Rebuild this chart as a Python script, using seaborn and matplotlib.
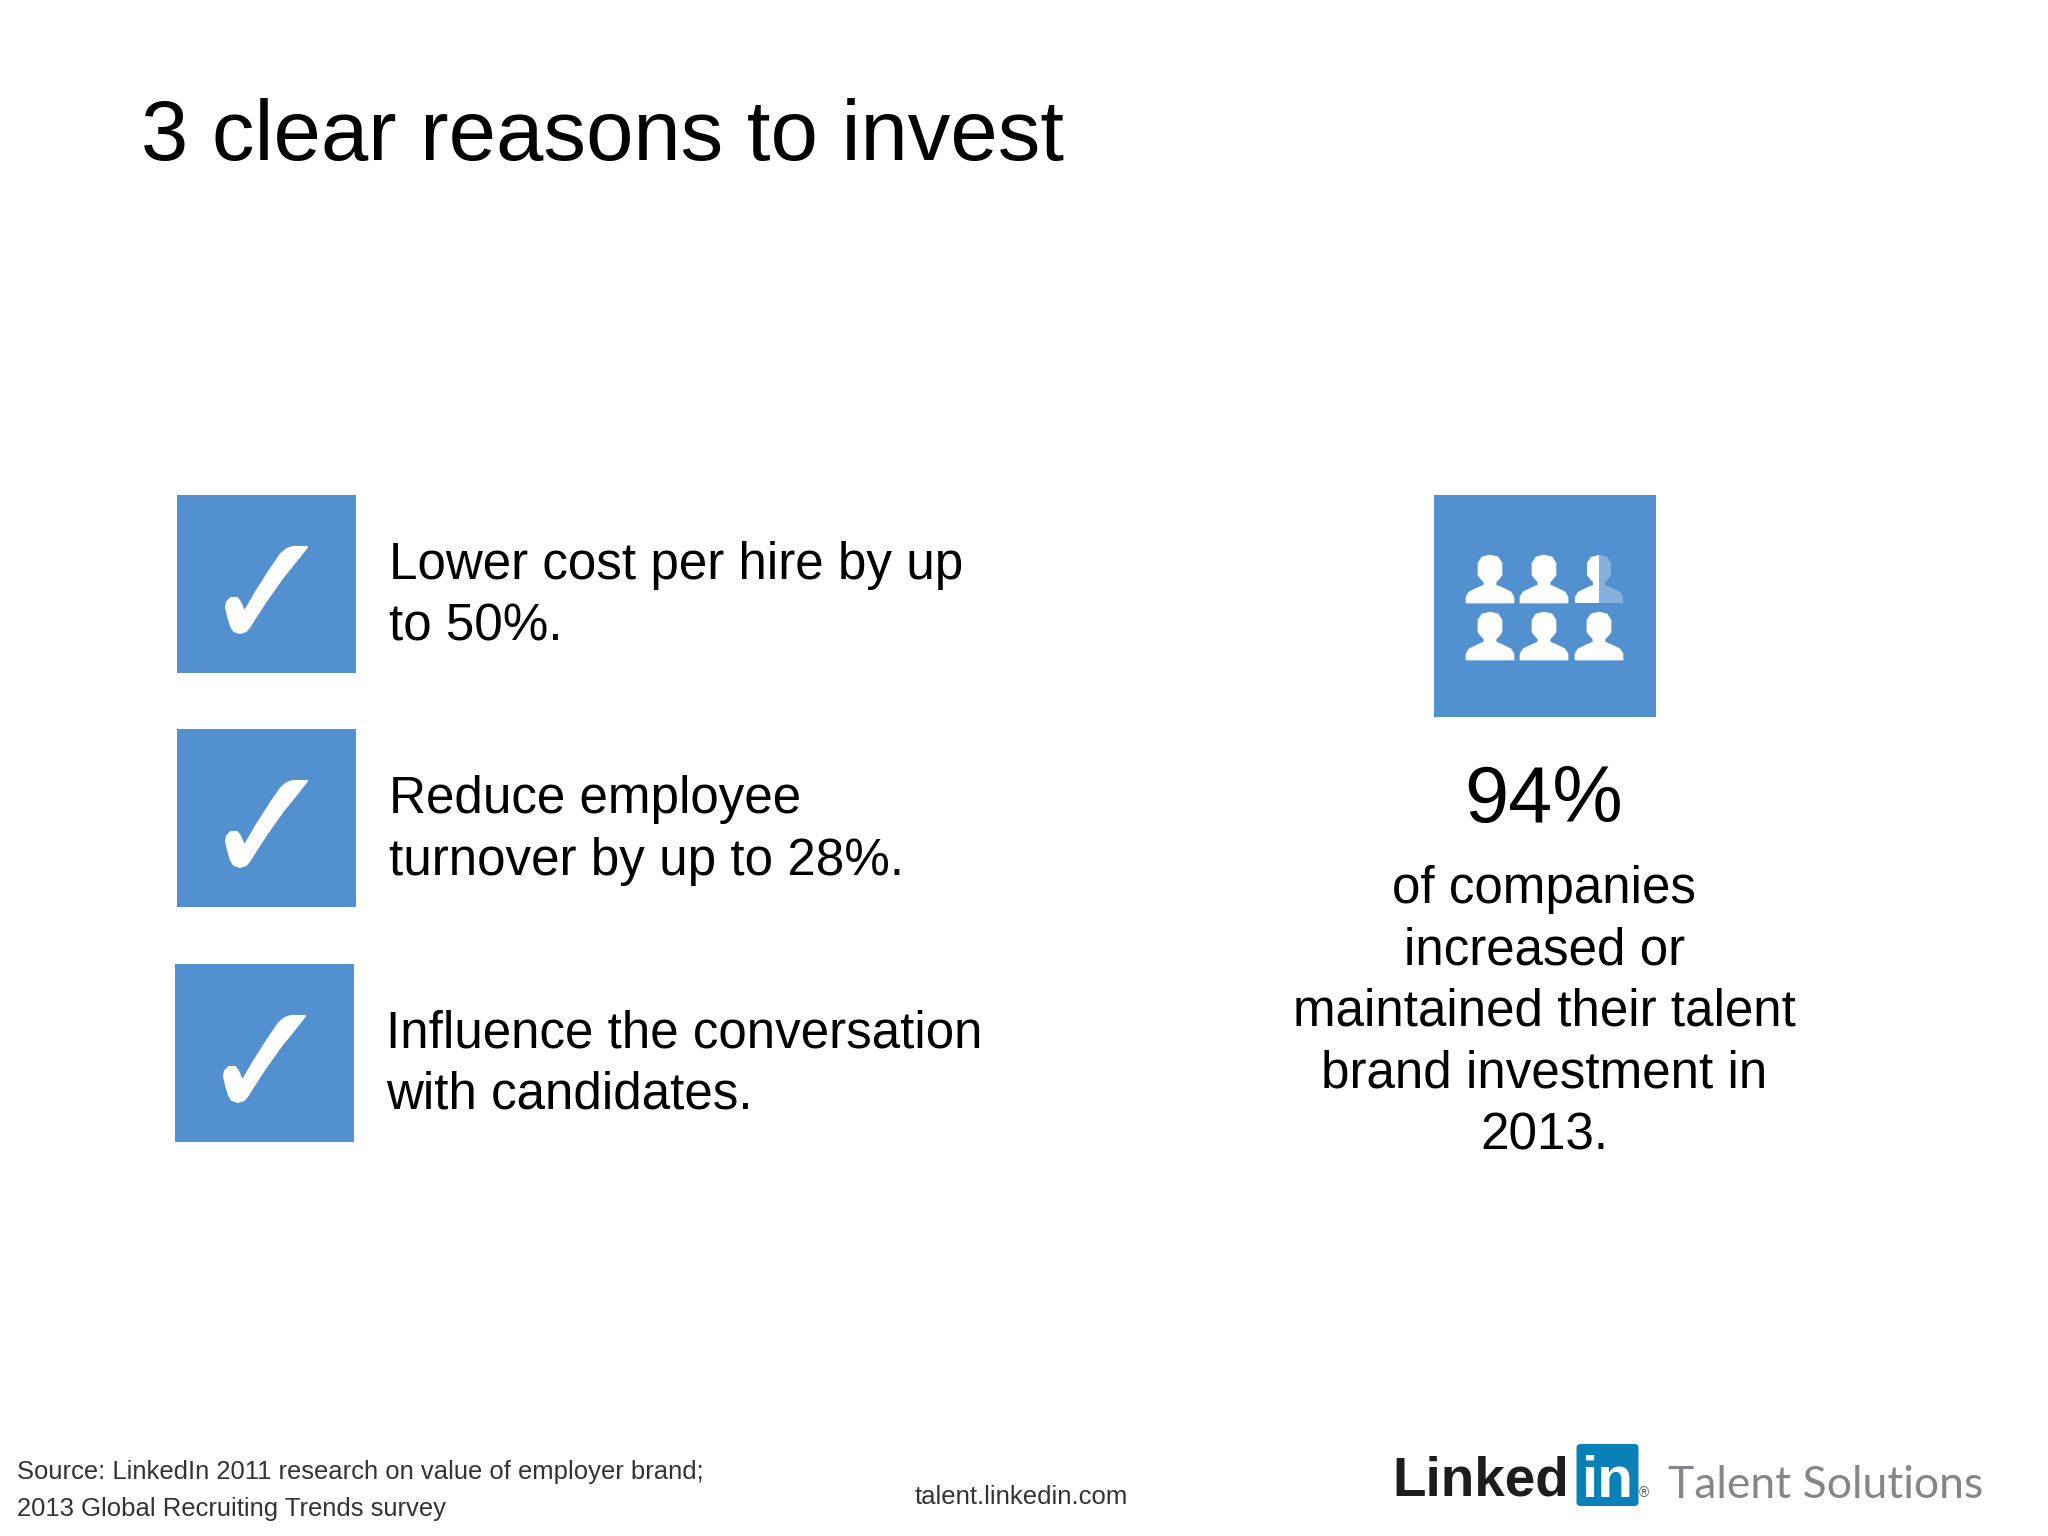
import matplotlib
matplotlib.use("Agg")
import matplotlib.pyplot as plt
from matplotlib.patches import Rectangle, Polygon, FancyBboxPatch
import seaborn as sns

# slide text
title = "3 clear reasons to invest"
reasons = [
    ["Lower cost per hire by up", "to 50%."],
    ["Reduce employee", "turnover by up to 28%."],
    ["Influence the conversation", "with candidates."],
]
stat_value = "94%"
stat_lines = ["of companies", "increased or", "maintained their talent", "brand investment in", "2013."]
source_lines = ["Source: LinkedIn 2011 research on value of employer brand;",
                "2013 Global Recruiting Trends survey"]
site = "talent.linkedin.com"

BLUE = "#5290d0"

sns.set_theme(style="white")
plt.rcParams["font.family"] = ["Liberation Sans", "DejaVu Sans"]

fig, ax = plt.subplots(figsize=(20.48, 15.36), dpi=100)
fig.subplots_adjust(0, 0, 1, 1)
ax.set_xlim(0, 2048)
ax.set_ylim(1536, 0)
ax.set_xticks([])
ax.set_yticks([])
sns.despine(ax=ax, left=True, bottom=True)


def draw_check(x, y):
    # outline traced off the tile, relative to its top left corner
    check = [(130, 52), (119, 66), (106, 82), (89, 106), (78, 123), (73, 131), (69, 136), (63, 138),
             (57, 136), (54, 131), (51, 121), (49, 112), (50, 107), (54, 103), (60, 103), (63, 107),
             (66, 114), (68, 116), (79, 97), (93, 75), (104, 59), (110, 54), (116, 52), (123, 52)]
    ax.add_patch(Polygon([(x + a, y + b) for a, b in check], closed=True, fc="white", ec="white",
                         lw=1.5, joinstyle="round"))


def draw_person(cx, base, half=False):
    outline = [(-24, 0), (-24, -6), (-21, -11), (-13, -15), (-6, -18), (-6, -21), (-9, -24), (-12, -28),
               (-12, -40), (-8, -46), (0, -48), (8, -46), (12, -40), (12, -28), (9, -24), (6, -21),
               (6, -18), (13, -15), (21, -11), (24, -6), (24, 0)]
    pts = [(cx + a, base + b) for a, b in outline]
    if not half:
        ax.add_patch(Polygon(pts, closed=True, fc="white", ec="white", lw=0.5))
        return
    # last person of the 94% icon is only part filled
    faded = Polygon(pts, closed=True, fc="white", ec="none", alpha=0.3)
    ax.add_patch(faded)
    solid = Polygon(pts, closed=True, fc="white", ec="none")
    ax.add_patch(solid)
    solid.set_clip_path(Rectangle((cx - 30, base - 60), 30, 70, transform=ax.transData))


# title
ax.text(141, 160, title, fontsize=61.3, color="black", va="baseline")

# check tiles and reasons
tile_x = [177, 177, 175]
tile_y = [495, 729, 964]
text_x = [389, 389, 386]
text_y = [579, 813, 1047]
for i, lines in enumerate(reasons):
    ax.add_patch(Rectangle((tile_x[i], tile_y[i]), 179, 178, fc=BLUE, ec="none"))
    draw_check(tile_x[i], tile_y[i])
    for k, line in enumerate(lines):
        ax.text(text_x[i], text_y[i] + k * 61.5, line, fontsize=36.8, color="black", va="baseline")

# right hand stat
ax.add_patch(Rectangle((1434, 495), 222, 222, fc=BLUE, ec="none"))
for row, base in enumerate([603, 660]):
    for col, cx in enumerate([1490, 1544, 1599]):
        draw_person(cx, base, half=(row == 0 and col == 2))
ax.text(1544, 822, stat_value, fontsize=57, color="black", ha="center", va="baseline")
for k, line in enumerate(stat_lines):
    ax.text(1544.5, 903 + k * 61.5, line, fontsize=36.8, color="black", ha="center", va="baseline")

# footer
for k, line in enumerate(source_lines):
    ax.text(17, 1479 + k * 37, line, fontsize=18.45, color="#333333", va="baseline")
ax.text(915, 1504, site, fontsize=18.5, color="#333333", va="baseline")

# logo
ax.text(1392, 1495, "Linked", fontsize=39.5, fontweight="bold", color="#1d1d1b", va="baseline")
ax.add_patch(FancyBboxPatch((1582 - 2.5, 1447), 56, 56, boxstyle="round,pad=3,rounding_size=4",
                            fc="#0a80b8", ec="none"))
ax.text(1607.5, 1497, "in", fontsize=42, fontweight="bold", color="white", ha="center", va="baseline")
ax.text(1644, 1497, "\u00ae", fontsize=10, color="#555555", ha="center", va="baseline")
ax.text(1668, 1498, "Talent Solutions", fontsize=32, family=["Lato", "DejaVu Sans"],
        color="#86868a", va="baseline")

fig.savefig("out.png", dpi=100)
